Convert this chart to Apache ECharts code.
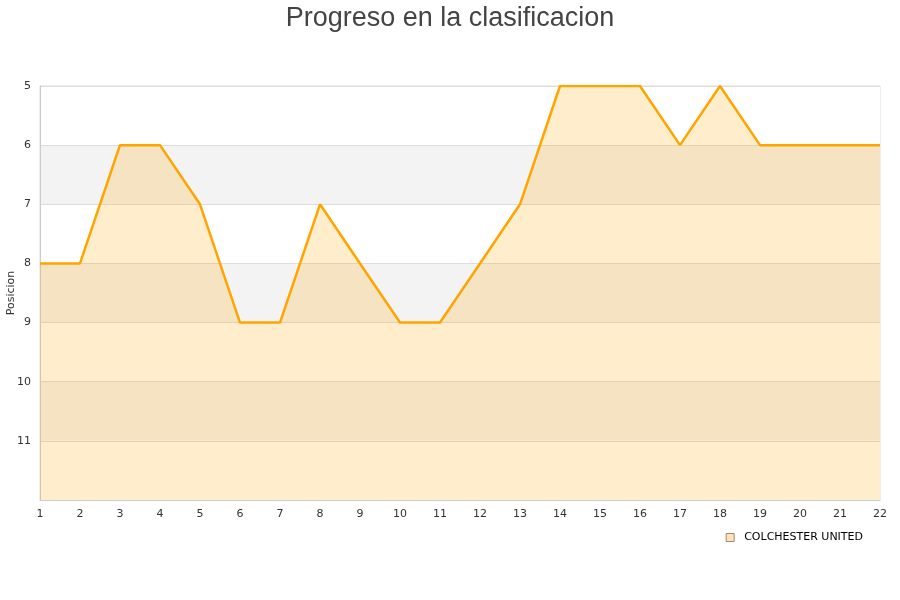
<!DOCTYPE html>
<html><head><meta charset="utf-8">
<script src="https://cdn.jsdelivr.net/npm/echarts@6/dist/echarts.min.js"></script>
<style>html,body{margin:0;padding:0;background:#fff}#c{width:900px;height:600px}</style>
</head><body><div id="c"></div>
<script>
const jornadas = ['1','2','3','4','5','6','7','8','9','10','11','12','13','14','15','16','17','18','19','20','21','22'];
const posiciones = [8,8,6,6,7,9,9,7,8,9,9,8,7,5,5,5,6,5,6,6,6,6];
const teamName = 'COLCHESTER UNITED';
const chart = echarts.init(document.getElementById('c'));
chart.setOption({
  animation: false,
  title: { text: 'Progreso en la clasificacion', left: 'center', top: 0,
    textStyle: { fontFamily: 'Liberation Sans, Arial, sans-serif', fontSize: 27, fontWeight: 'normal', color: '#444' } },
  legend: { data: [teamName], right: 32, top: 527, icon: 'rect', itemWidth: 8, itemHeight: 8, itemGap: 8,
    itemStyle: { color: '#ffe4bb', borderColor: '#9a8a70', borderWidth: 1 },
    textStyle: { fontFamily: 'DejaVu Sans', fontSize: 11, color: '#000', padding: [0, 0, 0, 5] } },
  grid: { left: 40, right: 20, top: 86, bottom: 100, containLabel: false, outerBoundsMode: 'none',
    show: true, borderColor: '#ddd', borderWidth: 1 },
  xAxis: { type: 'category', data: jornadas, boundaryGap: false,
    axisLine: { lineStyle: { color: '#ccc' } }, axisTick: { show: false },
    axisLabel: { color: '#333', fontFamily: 'DejaVu Sans', fontSize: 11, margin: 9 },
    splitLine: { show: false } },
  yAxis: { type: 'value', inverse: true, min: 5, max: 12, interval: 1,
    name: 'Posicion', nameLocation: 'middle', nameGap: 23, nameRotate: 90, nameMoveOverlap: false,
    nameTextStyle: { color: '#333', fontFamily: 'DejaVu Sans', fontSize: 11 },
    axisLine: { show: true, lineStyle: { color: '#ccc' } }, axisTick: { show: false },
    axisLabel: { color: '#333', fontFamily: 'DejaVu Sans', fontSize: 11, margin: 9,
      formatter: v => v === 12 ? '' : String(v) },
    splitLine: { show: true, lineStyle: { color: '#ddd' } },
    splitArea: { show: true, areaStyle: { color: ['#ffffff', '#f3f3f3'], opacity: 1 } } },
  series: [{
    name: teamName, type: 'line', data: posiciones, symbol: 'none',
    lineStyle: { color: '#ffa500', width: 2.5 },
    itemStyle: { color: '#ffa500' },
    areaStyle: { color: '#ffa500', opacity: 0.2, origin: 'end' }
  }]
});
</script></body></html>
